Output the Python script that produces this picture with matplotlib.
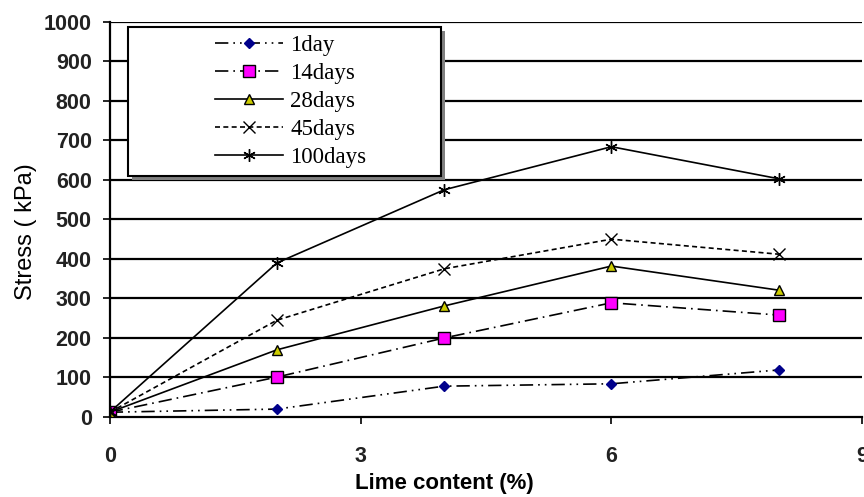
import matplotlib.pyplot as plt
from matplotlib.patches import Rectangle


# Data
lime = [0, 2, 4, 6, 8]
day1 = [12, 20, 78, 84, 119]
days14 = [12, 101, 200, 289, 258]
days28 = [12, 170, 281, 382, 321]
days45 = [12, 245, 375, 450, 412]
days100 = [12, 390, 575, 684, 603]

labels = ["1day", "14days", "28days", "45days", "100days"]
yticks = list(range(0, 1001, 100))
xticks = [0, 3, 6, 9]


plt.rcParams["font.family"] = ["Liberation Sans", "DejaVu Sans"]

fig = plt.figure(figsize=(8.64, 4.97), dpi=100)
ax = fig.add_axes([0.127, 0.161, 0.871, 0.795])

# Horizontal gridlines
for v in yticks[1:]:
    ax.axhline(v, color="black", lw=1.6, zorder=1)

ax.plot(lime, day1, color="black", lw=1.2, ls=(0, (8, 3, 1, 3, 1, 3)),
        marker="D", ms=5.5, mfc="#00008B", mec="#00008B", label=labels[0], zorder=3)
ax.plot(lime, days14, color="black", lw=1.2, ls=(0, (8, 3, 1, 3)),
        marker="s", ms=8, mfc="#FF00FF", mec="black", label=labels[1], zorder=3)
ax.plot(lime, days28, color="black", lw=1.2, ls="-",
        marker="^", ms=7, mfc="#CCCC00", mec="black", label=labels[2], zorder=3)
ax.plot(lime, days45, color="black", lw=1.2, ls=(0, (3, 2)),
        marker="x", ms=8, mec="black", label=labels[3], zorder=3)
ax.plot(lime, days100, color="black", lw=1.2, ls="-",
        marker=(6, 2, 0), ms=9, mec="black", label=labels[4], zorder=3)

ax.set_xlim(0, 9)
ax.set_ylim(0, 1000)
ax.set_xticks(xticks)
ax.set_yticks(yticks)

ax.spines["top"].set_visible(False)
ax.spines["right"].set_visible(False)
ax.spines["left"].set_linewidth(1.6)
ax.spines["bottom"].set_linewidth(1.6)

ax.tick_params(axis="both", direction="out", length=5, width=1.2,
               labelsize=15.5, colors="black")
ax.tick_params(axis="y", pad=8)
ax.tick_params(axis="x", pad=16)
for t in ax.get_xticklabels() + ax.get_yticklabels():
    t.set_fontweight("bold")
    t.set_color("#222222")

ax.set_xlabel("Lime content (%)", fontsize=16, fontweight="bold")
ax.xaxis.set_label_coords(0.445, -0.142)
ax.set_ylabel("Stress ( kPa)", fontsize=17)
ax.yaxis.set_label_coords(-0.097, 0.468)

# Legend box with shadow, drawn by hand
box_x, box_y, box_w, box_h = 0.024, 0.61, 0.416, 0.377
ax.add_patch(Rectangle((box_x + 0.005, box_y - 0.01), box_w, box_h,
                       transform=ax.transAxes, facecolor="#808080",
                       edgecolor="none", zorder=4, clip_on=False))
ax.add_patch(Rectangle((box_x, box_y), box_w, box_h,
                       transform=ax.transAxes, facecolor="white",
                       edgecolor="black", lw=1.5, zorder=4, clip_on=False))

leg = ax.legend(loc="upper left", bbox_to_anchor=(0.124, 0.995),
                frameon=False, prop={"family": "Liberation Serif", "size": 16.5},
                borderpad=0, labelspacing=0.3, handlelength=3.0,
                handletextpad=0.3)
leg.set_zorder(5)

plt.savefig("out.png", dpi=100)
